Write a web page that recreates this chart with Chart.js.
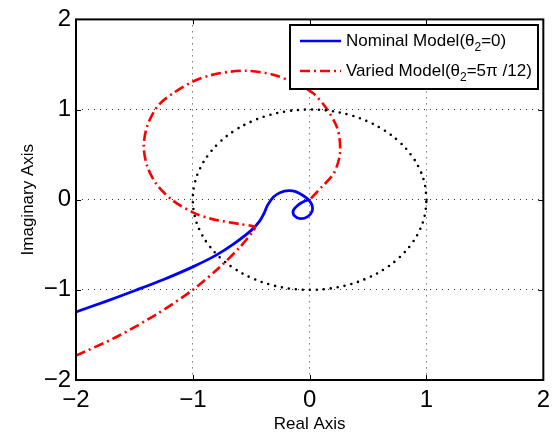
<!DOCTYPE html>
<html>
<head>
<meta charset="utf-8">
<script src="https://cdn.jsdelivr.net/npm/chart.js@4"></script>
<style>
html,body{margin:0;padding:0;background:#fff;}
#wrap{width:556px;height:437px;position:relative;}
</style>
</head>
<body>
<div id="wrap"><canvas id="c" width="556" height="437"></canvas></div>
<script>
// ---- data ----
const xTicks = [-2, -1, 0, 1, 2];
const yTicks = [-2, -1, 0, 1, 2];

const nominalX = [-2, -1.75, -1.5, -1.25, -1.0, -0.8, -0.65, -0.5, -0.43, -0.39, -0.36, -0.31, -0.25, -0.18, -0.12, -0.06, -0.01, 0.02, 0.02, -0.02, -0.08, -0.13, -0.14, -0.10, -0.05, 0];
const nominalY = [-1.245, -1.13, -1.01, -0.885, -0.745, -0.615, -0.49, -0.34, -0.24, -0.15, -0.06, 0.03, 0.08, 0.10, 0.09, 0.05, 0.0, -0.06, -0.13, -0.19, -0.21, -0.18, -0.12, -0.06, -0.02, 0];

const variedX = [-2, -1.65, -1.31, -1.0, -0.78, -0.6, -0.48, -0.47, -0.60, -0.85, -1.0, -1.17, -1.31, -1.39, -1.42, -1.39, -1.30, -1.17, -1.0, -0.85, -0.68, -0.54, -0.32, -0.14, 0.03, 0.15, 0.24, 0.26, 0.21, 0.11, 0];
const variedY = [-1.73, -1.52, -1.27, -1.0, -0.76, -0.53, -0.34, -0.30, -0.27, -0.21, -0.14, -0.01, 0.17, 0.37, 0.59, 0.82, 1.04, 1.18, 1.31, 1.38, 1.42, 1.43, 1.39, 1.30, 1.18, 1.0, 0.78, 0.52, 0.30, 0.15, 0];

const circleX = [1, 0.985, 0.940, 0.866, 0.766, 0.643, 0.5, 0.342, 0.174, 0, -0.174, -0.342, -0.5, -0.643, -0.766, -0.866, -0.940, -0.985, -1, -0.985, -0.940, -0.866, -0.766, -0.643, -0.5, -0.342, -0.174, 0, 0.174, 0.342, 0.5, 0.643, 0.766, 0.866, 0.940, 0.985, 1];
const circleY = [0, 0.174, 0.342, 0.5, 0.643, 0.766, 0.866, 0.940, 0.985, 1, 0.985, 0.940, 0.866, 0.766, 0.643, 0.5, 0.342, 0.174, 0, -0.174, -0.342, -0.5, -0.643, -0.766, -0.866, -0.940, -0.985, -1, -0.985, -0.940, -0.866, -0.766, -0.643, -0.5, -0.342, -0.174, 0];

const legendLabels = ["Nominal Model(θ", "2", "=0)", "Varied Model(θ", "2", "=5π /12)"];

function pts(xs, ys) { return xs.map((x, i) => ({x: x, y: ys[i]})); }

const FONT = "'Liberation Sans', Arial, Helvetica, sans-serif";
Chart.defaults.font.family = FONT;
Chart.defaults.color = '#000';

const RED_DASH = [10, 4, 2, 4];

const boxPlugin = {
  id: 'box',
  afterDatasetsDraw(chart) {
    const ctx = chart.ctx, a = chart.chartArea;
    const xs = chart.scales.x, ys = chart.scales.y;
    ctx.save();
    ctx.strokeStyle = '#000';
    ctx.lineWidth = 1;
    ctx.setLineDash([]);
    xTicks.forEach(v => {
      const px = Math.round(xs.getPixelForValue(v)) + 0.5;
      ctx.beginPath();
      ctx.moveTo(px, a.bottom); ctx.lineTo(px, a.bottom - 5);
      ctx.moveTo(px, a.top); ctx.lineTo(px, a.top + 5);
      ctx.stroke();
    });
    yTicks.forEach(v => {
      const py = Math.round(ys.getPixelForValue(v)) + 0.5;
      ctx.beginPath();
      ctx.moveTo(a.left, py); ctx.lineTo(a.left + 5, py);
      ctx.moveTo(a.right, py); ctx.lineTo(a.right - 5, py);
      ctx.stroke();
    });
    ctx.lineWidth = 2;
    ctx.strokeRect(a.left, a.top, a.right - a.left, a.bottom - a.top);

    // legend
    const lx = 290, ly = 25, lw = 248, lh = 64;
    ctx.fillStyle = '#fff';
    ctx.fillRect(lx, ly, lw, lh);
    ctx.lineWidth = 2;
    ctx.strokeStyle = '#000';
    ctx.strokeRect(lx, ly, lw, lh);
    const rows = [
      {y: 41, color: '#0000ff', dash: [], parts: legendLabels.slice(0, 3)},
      {y: 71, color: '#ff0000', dash: RED_DASH, parts: legendLabels.slice(3, 6)}
    ];
    rows.forEach(r => {
      ctx.strokeStyle = r.color;
      ctx.lineWidth = 2.6;
      ctx.setLineDash(r.dash);
      ctx.beginPath();
      ctx.moveTo(300, r.y); ctx.lineTo(341, r.y);
      ctx.stroke();
      ctx.setLineDash([]);
      ctx.fillStyle = '#000';
      ctx.textBaseline = 'middle';
      ctx.textAlign = 'left';
      let x = 346;
      ctx.font = '17px ' + FONT;
      ctx.fillText(r.parts[0], x, r.y);
      x += ctx.measureText(r.parts[0]).width;
      ctx.font = '12px ' + FONT;
      ctx.fillText(r.parts[1], x, r.y + 7);
      x += ctx.measureText(r.parts[1]).width;
      ctx.font = '17px ' + FONT;
      ctx.fillText(r.parts[2], x, r.y);
    });
    ctx.restore();
  }
};

const minus = v => (v < 0 ? '\u2212' + Math.abs(v) : String(v));

new Chart(document.getElementById('c'), {
  type: 'scatter',
  data: {
    datasets: [
      {
        label: 'circle', data: pts(circleX, circleY), showLine: true,
        borderColor: '#000', borderWidth: 2.6, borderDash: [0, 7], borderCapStyle: 'round',
        pointRadius: 0, tension: 0.4, order: 0
      },
      {
        label: 'Varied', data: pts(variedX, variedY), showLine: true,
        borderColor: '#ff0000', borderWidth: 2.6, borderDash: RED_DASH,
        pointRadius: 0, tension: 0.3, order: 1
      },
      {
        label: 'Nominal', data: pts(nominalX, nominalY), showLine: true,
        borderColor: '#0000ff', borderWidth: 2.8,
        pointRadius: 0, tension: 0.35, order: 2
      }
    ]
  },
  options: {
    responsive: false,
    animation: false,
    layout: {padding: {top: 17, right: 11, left: 0, bottom: 0}},
    plugins: {legend: {display: false}, tooltip: {enabled: false}},
    scales: {
      x: {
        type: 'linear', min: -2, max: 2,
        afterBuildTicks: s => { s.ticks = xTicks.map(v => ({value: v})); },
        afterFit: s => { s.height = 57; },
        ticks: {font: {size: 24}, padding: 6, maxRotation: 0, callback: minus},
        grid: {color: 'rgba(0,0,0,0.8)', lineWidth: 1, drawTicks: false},
        border: {display: false, dash: [1, 5]},
        title: {display: true, text: 'Real Axis', font: {size: 17}, padding: {top: 0, bottom: 2}}
      },
      y: {
        type: 'linear', min: -2, max: 2,
        afterBuildTicks: s => { s.ticks = yTicks.map(v => ({value: v})); },
        afterFit: s => { s.width = 76; },
        ticks: {font: {size: 24}, padding: 5, callback: minus},
        grid: {color: 'rgba(0,0,0,0.8)', lineWidth: 1, drawTicks: false},
        border: {display: false, dash: [1, 5]},
        title: {display: true, text: 'Imaginary Axis', font: {size: 17}, padding: {top: 18, bottom: 0}}
      }
    }
  },
  plugins: [boxPlugin]
});
</script>
</body>
</html>
